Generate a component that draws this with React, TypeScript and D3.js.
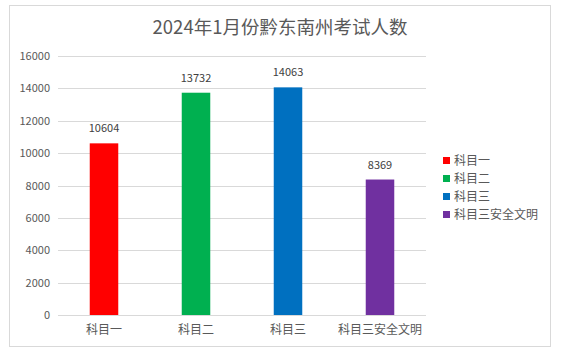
import React from "react";
import * as d3 from "d3";

const categories = ["科目一", "科目二", "科目三", "科目三安全文明"];
const values = [10604, 13732, 14063, 8369];
const colors = ["#FF0000", "#00B050", "#0070C0", "#7030A0"];
const yTicks = [0, 2000, 4000, 6000, 8000, 10000, 12000, 14000, 16000];
const title = "2024年1月份黔东南州考试人数";

const W = 561;
const H = 356;
const FONT = "'Noto Sans CJK SC', 'Noto Sans', sans-serif";

export default function App() {
  const left = 58;
  const right = 426;
  const top = 56;
  const bottom = 315;
  const x = d3.scaleBand<string>().domain(categories).range([left, right]).paddingInner(0.69).paddingOuter(0.345);
  const y = d3.scaleLinear().domain([0, 16000]).range([bottom, top]);

  return (
    <svg width={W} height={H} style={{ position: "absolute", left: 0, top: 0 }} fontFamily={FONT}>
      <rect x={0} y={0} width={W} height={H} fill="#fff" />
      <rect x={9.5} y={5.5} width={541} height={341} fill="#fff" stroke="#d9d9d9" strokeWidth={1} />
      <text x={280} y={34} textAnchor="middle" fontSize={18.5} fill="#595959">{title}</text>
      {yTicks.map((t) => (
        <g key={t}>
          <line x1={left} x2={right} y1={Math.round(y(t)) + 0.5} y2={Math.round(y(t)) + 0.5} stroke="#d9d9d9" strokeWidth={1} />
          <text x={50} y={y(t) + 4} textAnchor="end" fontSize={11} fill="#595959">{t}</text>
        </g>
      ))}
      {categories.map((c, i) => (
        <g key={c}>
          <rect x={x(c)!} y={y(values[i])} width={x.bandwidth()} height={bottom - y(values[i])} fill={colors[i]} />
          <text x={x(c)! + x.bandwidth() / 2} y={y(values[i]) - 11} textAnchor="middle" fontSize={11} fill="#404040">{values[i]}</text>
          <text x={x(c)! + x.bandwidth() / 2} y={334} textAnchor="middle" fontSize={12} fill="#595959">{c}</text>
        </g>
      ))}
      {categories.map((c, i) => (
        <g key={"lg" + c}>
          <rect x={443} y={157 + i * 18} width={7} height={7} fill={colors[i]} />
          <text x={454} y={165 + i * 18} fontSize={12} fill="#595959">{c}</text>
        </g>
      ))}
    </svg>
  );
}
